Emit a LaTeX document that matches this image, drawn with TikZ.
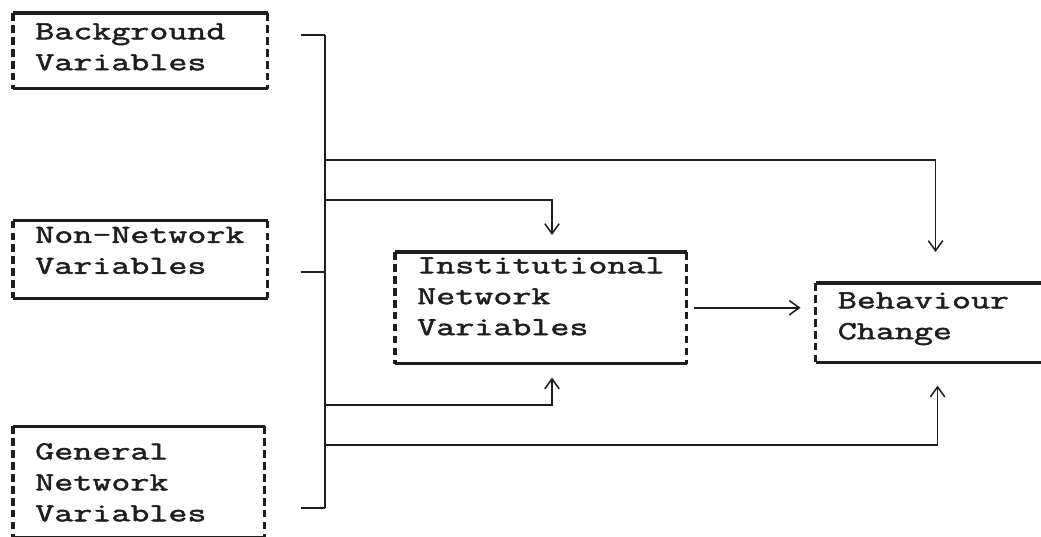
\documentclass[tikz,border=0pt]{standalone}
\usepackage{fontspec}
\usetikzlibrary{arrows.meta, positioning}
\newfontfamily\typewriter[FakeStretch=1.42, FakeBold=1.9]{Latin Modern Mono}
\definecolor{inkcolor}{RGB}{30,30,30}
\tikzset{
    varbox/.style={rectangle, anchor=north west, inner xsep=0.55cm, inner ysep=0pt,
        align=left, text=inkcolor, font=\typewriter\fontsize{18.5}{22}\selectfont},
    link/.style={draw=inkcolor, line width=1.1pt},
    arrow/.style={link, -{Straight Barb[length=2.5mm, width=3.6mm]}}
}
% solid rules top and bottom, dashed sides
\newcommand{\varframe}[1]{%
    \draw[inkcolor, line width=2.3pt] (#1.north west) -- (#1.north east)
        (#1.south west) -- (#1.south east);
    \draw[inkcolor, line width=2.6pt, dash pattern=on 5.5pt off 3pt]
        (#1.north west) -- (#1.south west) (#1.north east) -- (#1.south east);}

\begin{document}
\begin{tikzpicture}

    \useasboundingbox (0,0) rectangle (26.025,13.425);
    \clip (0,0) rectangle (26.025,13.425);

    % input variables
    \node[varbox, text width=5.25cm, text height=0.65cm, text depth=1.225cm] (bg) at (0.325,13.1) {Background\\Variables};
    \node[varbox, text width=5.25cm, text height=0.55cm, text depth=1.375cm, below=3.3cm of bg.south west, anchor=north west] (nonnet) {\mbox{Non-Network}\\Variables};
    \node[varbox, text width=5.175cm, text height=0.825cm, text depth=1.955cm, below=3.2cm of nonnet.south west, anchor=north west] (general) {General\\Network\\Variables};

    % mediating and outcome variables
    \node[varbox, text width=6.175cm, text height=0.525cm, text depth=2.25cm] (inst) at (9.875,7.125) {Institutional\\Network\\Variables};
    \node[varbox, text width=5.4cm, text height=0.625cm, text depth=1.35cm, right=3.225cm of inst.north east, anchor=north west, yshift=-0.775cm] (beh) {Behaviour\\Change};

    \varframe{bg}
    \varframe{nonnet}
    \varframe{general}
    \varframe{inst}
    \varframe{beh}

    % collecting bus
    \coordinate (bustop) at (8.125,12.55);
    \coordinate (busmid) at (8.125,6.625);
    \coordinate (busbot) at (8.125,0.725);
    \coordinate (tobeh) at (8.125,9.425);
    \coordinate (toinst) at (8.125,8.425);
    \coordinate (upinst) at (8.125,3.3);
    \coordinate (upbeh) at (8.125,2.3);

    \draw[link] (bustop) -- (busbot);
    \draw[link, shorten <=0.825cm] (bg.east |- bustop) -- (bustop);
    \draw[link, shorten <=0.825cm] (nonnet.east |- busmid) -- (busmid);
    \draw[link, shorten <=0.9cm] (general.east |- busbot) -- (busbot);

    \draw[arrow, shorten >=0.775cm] (tobeh) -| ([xshift=3cm]beh.north west);
    \draw[arrow, shorten >=0.425cm] (toinst) -| ([xshift=3.925cm]inst.north west);
    \draw[arrow, shorten >=0.35cm] (upinst) -| ([xshift=3.925cm]inst.south west);
    \draw[arrow, shorten >=0.575cm] (upbeh) -| ([xshift=3.05cm]beh.south west);
    \draw[arrow, shorten <=0.175cm, shorten >=0.375cm] (inst.east) -- (inst.east -| beh.west);

\end{tikzpicture}
\end{document}
